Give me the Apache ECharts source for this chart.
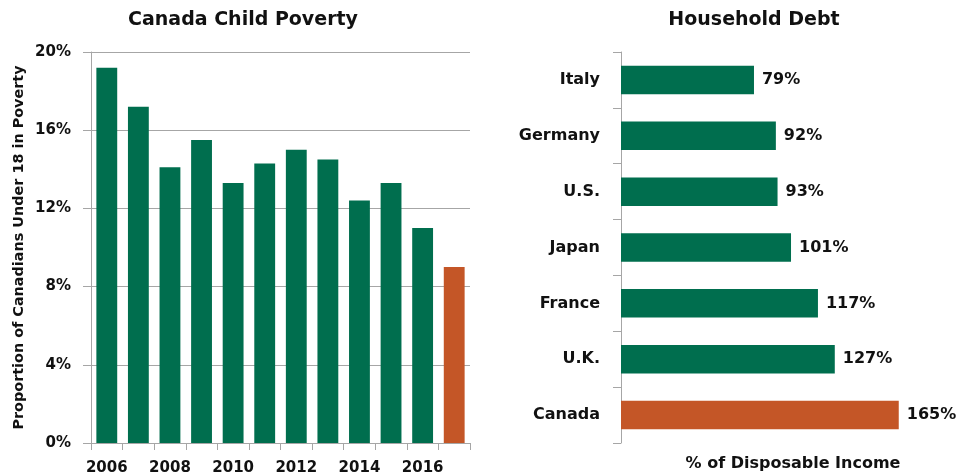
<!DOCTYPE html>
<html>
<head>
<meta charset="utf-8">
<script src="https://cdn.jsdelivr.net/npm/echarts@6/dist/echarts.min.js"></script>
<style>
  html, body { margin: 0; padding: 0; background: #fff; }
  #chart { width: 957px; height: 476px; }
</style>
</head>
<body>
<div id="chart"></div>
<script>
// left panel: child poverty by year
var years = ['2006', '2007', '2008', '2009', '2010', '2011', '2012', '2013', '2014', '2015', '2016', '2017'];
var poverty = [19.2, 17.2, 14.1, 15.5, 13.3, 14.3, 15.0, 14.5, 12.4, 13.3, 11.0, 9.0];

// right panel: household debt by country
var countries = ['Italy', 'Germany', 'U.S.', 'Japan', 'France', 'U.K.', 'Canada'];
var debt = [79, 92, 93, 101, 117, 127, 165];

var GREEN = '#006e4e';
var ORANGE = '#c45627';
var FONT = "'DejaVu Sans', sans-serif";
var TXT = '#111';
var LINE = '#a6a6a6';

window.onload = function () {
  drawChart();
};

function drawChart() {
  var myChart = echarts.init(document.getElementById('chart'));

  var option = {
    backgroundColor: '#fff',
    animation: false,
    textStyle: { fontFamily: FONT },
    title: [
      {
        text: 'Canada Child Poverty', left: 243, top: 11, textAlign: 'center', padding: 0,
        textStyle: { fontFamily: FONT, fontWeight: 'bold', fontSize: 19, color: TXT }
      },
      {
        text: 'Household Debt', left: 754, top: 11, textAlign: 'center', padding: 0,
        textStyle: { fontFamily: FONT, fontWeight: 'bold', fontSize: 19, color: TXT }
      },
      {
        text: '% of Disposable Income', left: 793, top: 456, textAlign: 'center', padding: 0,
        textStyle: { fontFamily: FONT, fontWeight: 'bold', fontSize: 16, color: TXT }
      }
    ],
    grid: [
      { left: 91, top: 52, width: 379, height: 391 },
      { left: 621, top: 52, right: 33, height: 391 }
    ],
    xAxis: [
      {
        gridIndex: 0,
        type: 'category',
        data: years,
        boundaryGap: true,
        axisLine: { lineStyle: { color: LINE, width: 1 } },
        axisTick: { show: true, interval: 0, length: 7, lineStyle: { color: LINE } },
        axisLabel: {
          interval: 1, margin: 18, color: TXT,
          fontFamily: FONT, fontWeight: 'bold', fontSize: 15
        }
      },
      {
        gridIndex: 1,
        type: 'value',
        min: 0,
        max: 180,
        axisLine: { show: false },
        axisTick: { show: false },
        axisLabel: { show: false },
        splitLine: { show: false }
      }
    ],
    yAxis: [
      {
        gridIndex: 0,
        type: 'value',
        min: 0,
        max: 20,
        interval: 4,
        name: 'Proportion of Canadians Under 18 in Poverty',
        nameLocation: 'middle',
        nameGap: 65,
        nameRotate: 90,
        nameTextStyle: { fontFamily: FONT, fontWeight: 'bold', fontSize: 14.4, color: TXT },
        axisLine: { show: true, lineStyle: { color: LINE, width: 1 } },
        axisTick: { show: true, length: 8, lineStyle: { color: LINE } },
        axisLabel: {
          formatter: '{value}%', margin: 20, color: TXT,
          fontFamily: FONT, fontWeight: 'bold', fontSize: 15
        },
        splitLine: { show: true, lineStyle: { color: LINE, width: 1 } }
      },
      {
        gridIndex: 1,
        type: 'category',
        data: countries,
        inverse: true,
        axisLine: { show: true, lineStyle: { color: LINE, width: 1 } },
        axisTick: { show: true, length: 8, lineStyle: { color: LINE } },
        axisLabel: {
          margin: 21, color: TXT,
          fontFamily: FONT, fontWeight: 'bold', fontSize: 16
        }
      }
    ],
    series: [
      {
        name: 'Child Poverty',
        type: 'bar',
        xAxisIndex: 0,
        yAxisIndex: 0,
        barCategoryGap: '34%',
        data: poverty.map(function (v, i) {
          return { value: v, itemStyle: { color: i === poverty.length - 1 ? ORANGE : GREEN } };
        })
      },
      {
        name: 'Household Debt',
        type: 'bar',
        xAxisIndex: 1,
        yAxisIndex: 1,
        barCategoryGap: '49%',
        label: {
          show: true, position: 'right', distance: 8, formatter: '{c}%',
          color: TXT, fontFamily: FONT, fontWeight: 'bold', fontSize: 16
        },
        data: debt.map(function (v, i) {
          return { value: v, itemStyle: { color: countries[i] === 'Canada' ? ORANGE : GREEN } };
        })
      }
    ]
  };

  myChart.setOption(option);
}
</script>
</body>
</html>
